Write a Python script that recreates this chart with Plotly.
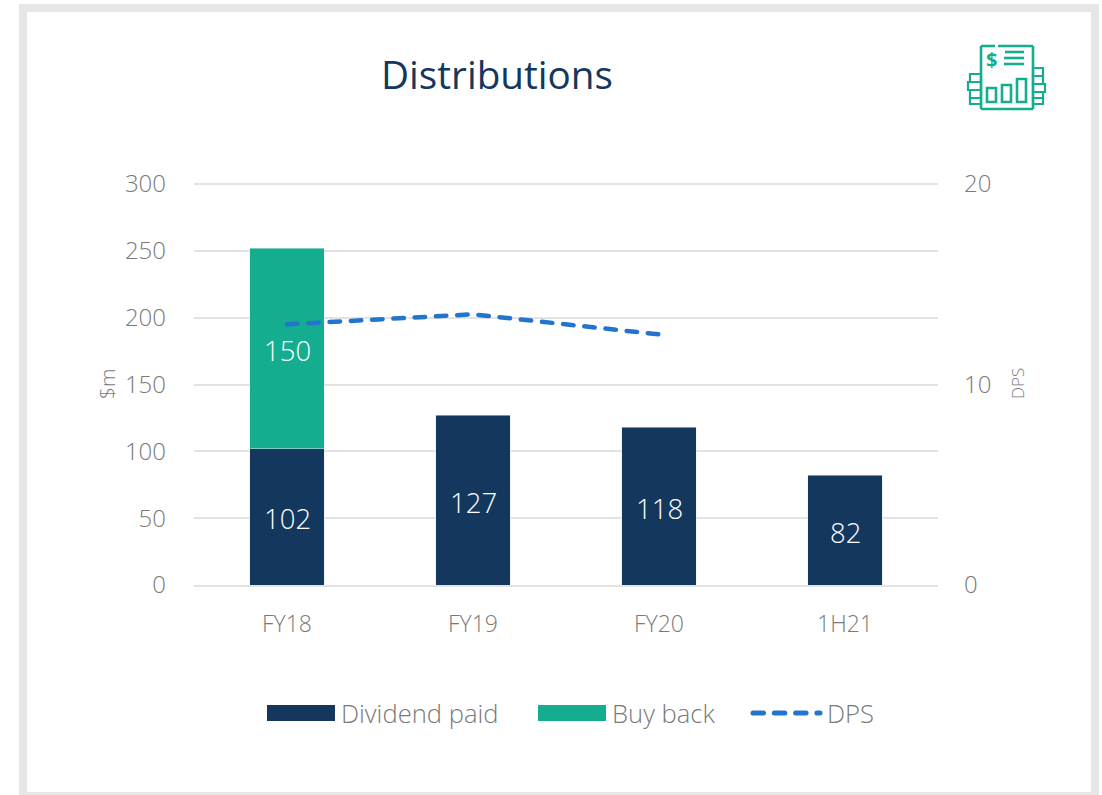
import plotly.graph_objects as go

categories = ["FY18", "FY19", "FY20", "1H21"]
dividend_paid = [102, 127, 118, 82]
buy_back = [150, None, None, None]
dps = [13.0, 13.5, 12.5, None]
left_ticks = [0, 50, 100, 150, 200, 250, 300]
right_ticks = [0, 10, 20]

NAVY = "#14375E"
TEAL = "#15AD90"
BLUE = "#2274CC"
GREY = "#7A7A7A"
GRID = "#E3E3E3"
FONT = "Open Sans"
W = 300

L, R, T, B = 194, 938, 184, 585
def px(x): return (x - L) / (R - L)
def py(y): return (B - y) / (B - T)

fig = go.Figure()
fig.add_bar(x=categories, y=dividend_paid, name="Dividend paid", marker_color=NAVY, width=0.4, showlegend=False)
fig.add_bar(x=categories, y=buy_back, name="Buy back", marker_color=TEAL, width=0.4, showlegend=False)
fig.add_scatter(x=categories, y=dps, name="DPS", yaxis="y2", mode="lines", showlegend=False,
                line=dict(color=BLUE, width=4.5, dash="10.5px 10.8px", shape="linear"))

shapes = []
def rect(x0, y0, x1, y1, **kw):
    shapes.append(dict(type="rect", xref="paper", yref="paper", x0=px(x0), x1=px(x1), y0=py(y0), y1=py(y1), **kw))
def seg(x0, y0, x1, y1, w=2.6):
    shapes.append(dict(type="line", xref="paper", yref="paper", x0=px(x0), x1=px(x1), y0=py(y0), y1=py(y1),
                       line=dict(color=TEAL, width=w)))

# outer frame
rect(23, 8, 1095, 796, line=dict(color="#E6E6E6", width=8), fillcolor="rgba(0,0,0,0)", layer="below")

# top gridline
shapes.append(dict(type="line", xref="paper", yref="paper", x0=0, x1=1, y0=1, y1=1,
                   line=dict(color=GRID, width=2), layer="below"))

# legend swatches
rect(267, 705, 335, 721, fillcolor=NAVY, line_width=0)
rect(538, 705, 606, 721, fillcolor=TEAL, line_width=0)
shapes.append(dict(type="line", xref="paper", yref="paper", x0=px(753), x1=px(820), y0=py(713), y1=py(713),
                   line=dict(color=BLUE, width=5, dash="10.5px 10.8px")))

# icon: document
seg(981, 46, 995, 46); seg(998, 46, 1033, 46)
seg(981, 46, 981, 109); seg(1033, 46, 1033, 109); seg(981, 109, 1033, 109)
for yy in (52, 58, 64):
    seg(1005 if yy == 52 else 1004, yy, 1024, yy)
for x0, y0, x1, y1 in [(987, 88, 996, 102), (1002, 85, 1011, 102), (1017, 79, 1026, 102)]:
    rect(x0, y0, x1, y1, line=dict(color=TEAL, width=2.6), fillcolor="rgba(0,0,0,0)")
for x0, x1, y0, y1 in [(970, 981, 74, 82), (968, 981, 82, 90), (970, 981, 90, 98), (970, 981, 98, 104),
                       (1033, 1043, 68, 76), (1033, 1043, 76, 84), (1033, 1045, 84, 92), (1033, 1043, 92, 98), (1033, 1043, 98, 104)]:
    rect(x0, y0, x1, y1, line=dict(color=TEAL, width=2.2), fillcolor="rgba(0,0,0,0)")

def note(text, x, y, size, color=GREY, anchor="left", angle=0, weight=W):
    return dict(text=text, xref="paper", yref="paper", x=px(x), y=py(y), showarrow=False, xanchor=anchor,
                yanchor="middle", textangle=angle, font=dict(family=FONT, size=size, color=color, weight=weight))

annotations = [
    note("Dividend paid", 339, 713, 25.6),
    note("Buy back", 610, 713, 25.6),
    note("DPS", 825, 713, 25.6),
    note("$m", 107, 384, 21, anchor="center", angle=-90),
    note("DPS", 1017, 384, 17, anchor="center", angle=-90),
    note("<b>$</b>", 991, 59, 20, color=TEAL, anchor="center", weight=700),
    note("Distributions", 497, 74, 38.7, color=NAVY, anchor="center", weight=400),
]

# value labels, placed at the middle of each bar segment
def bar_label(cat, base, value):
    return dict(text=str(value), x=cat, y=base + value / 2, xref="x", yref="y", showarrow=False, yshift=-2,
                font=dict(family=FONT, size=27.5, color="white", weight=W))
for c, d in zip(categories, dividend_paid):
    annotations.append(bar_label(c, 0, d))
for c, d, b in zip(categories, dividend_paid, buy_back):
    if b is not None:
        annotations.append(bar_label(c, d, b))

tf = dict(family=FONT, size=24, color=GREY, weight=W)
fig.update_layout(
    width=1102, height=795, margin=dict(l=L, r=1102 - R, t=T, b=795 - B),
    paper_bgcolor="white", plot_bgcolor="white", barmode="stack", bargap=0.6,
    font=dict(family=FONT, color=GREY, size=24),
    xaxis=dict(showgrid=False, showline=True, linecolor=GRID, linewidth=2, ticks="",
               tickfont=dict(tf, size=23), ticklabelstandoff=17),
    yaxis=dict(range=[0, 300], tickvals=left_ticks, gridcolor=GRID, gridwidth=2, zeroline=False,
               tickfont=tf, ticklabelstandoff=27),
    yaxis2=dict(range=[0, 20], tickvals=right_ticks, overlaying="y", side="right", showgrid=False,
                zeroline=False, tickfont=tf, ticklabelstandoff=25),
    shapes=shapes, annotations=annotations, showlegend=False,
)

fig.write_html(
    "out.html",
    config={"displayModeBar": False},
    post_script="""document.body.style.margin='0';document.body.style.overflow='hidden';
document.querySelectorAll('path').forEach(function(p){
  if ((p.style.strokeDasharray || '').indexOf('10.5') >= 0) { p.style.strokeLinecap = 'round'; }
});""",
)
